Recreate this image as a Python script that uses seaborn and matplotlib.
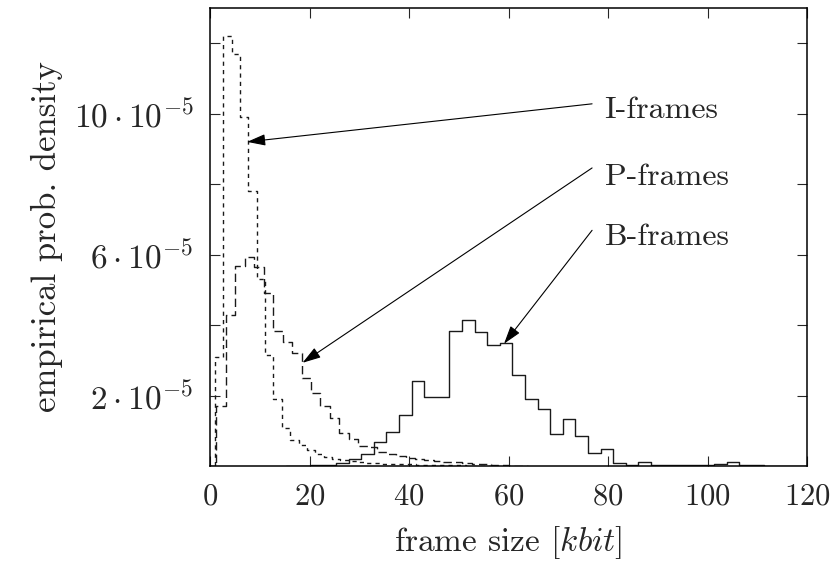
import numpy as np
import pandas as pd
import matplotlib
matplotlib.use("Agg")
import matplotlib.pyplot as plt
import seaborn as sns

# empirical densities, units of 1e-5 per kbit
i_start, i_width = 1.0, 1.68
i_density = [3.1, 12.2, 11.7, 9.9, 7.8, 5.3, 3.15, 1.9, 1.08, 0.74, 0.6, 0.45,
             0.33, 0.25, 0.2, 0.16, 0.13, 0.11, 0.09, 0.08, 0.07, 0.06, 0.05,
             0.05, 0.04, 0.03, 0.03, 0.02, 0.02, 0.02, 0.01, 0.01, 0.01]

p_start, p_width = 1.3, 1.9
p_density = [1.7, 4.28, 5.68, 5.93, 5.66, 4.92, 3.84, 3.51, 3.2, 2.51, 2.06,
             1.69, 1.35, 0.93, 0.77, 0.57, 0.53, 0.41, 0.33, 0.27, 0.24, 0.2,
             0.17, 0.15, 0.12, 0.1, 0.08, 0.06, 0.05, 0.04, 0.02, 0.01]

b_start, b_width = 17.73, 2.533
b_density = [0.01, 0.02, 0.04, 0.08, 0.2, 0.34, 0.67, 0.96, 1.45, 2.42, 1.95,
             1.95, 3.84, 4.15, 3.8, 3.44, 3.49, 2.57, 1.9, 1.62, 0.91, 1.33,
             0.85, 0.36, 0.47, 0.08, 0.03, 0.1, 0.03, 0.03, 0.02, 0.02, 0.02,
             0.05, 0.1, 0.03, 0.02, 0.01, 0.01, 0.01, 0.01]

frame_types = ["I-frames", "P-frames", "B-frames"]

sns.set_style("ticks")
plt.rcParams["font.family"] = "serif"
plt.rcParams["font.serif"] = ["cmr10", "DejaVu Serif"]
plt.rcParams["mathtext.fontset"] = "cm"
plt.rcParams["axes.formatter.use_mathtext"] = True


def step_hist(ax, start, width, dens, **kw):
    # pad with empty bins so the outline rises from / falls to zero
    dens = np.r_[0, dens, 0] * 1e-5
    edges = start + width * np.arange(-1, len(dens))
    df = pd.DataFrame({"size": (edges[:-1] + edges[1:]) / 2, "dens": dens})
    sns.histplot(data=df, x="size", weights="dens", bins=edges.tolist(),
                 element="step", fill=False, stat="count", color="#1a1a1a",
                 ax=ax, **kw)


fig = plt.figure(figsize=(8.3, 5.68), dpi=100)
ax = fig.add_axes([210 / 830, 1 - 466 / 568, 597 / 830, 458 / 568])

step_hist(ax, i_start, i_width, i_density, linewidth=1.0, linestyle=(0, (3, 3)))
step_hist(ax, p_start, p_width, p_density, linewidth=1.0, linestyle=(0, (6, 3)))
step_hist(ax, b_start, b_width, b_density, linewidth=1.0, linestyle="-")

# labels with arrows
text_y = [10.1, 8.2, 6.48]
tails = [(76.8, 10.28), (76.8, 8.46), (76.8, 6.69)]
tips = [(7.46, 9.2), (18.6, 2.93), (59.1, 3.47)]
for name, ty, (x0, y0), (x1, y1) in zip(frame_types, text_y, tails, tips):
    ax.text(79.3, ty * 1e-5, name, ha="left", va="center", fontsize=23)
    ax.annotate("", xy=(x1, y1 * 1e-5), xytext=(x0, y0 * 1e-5),
                arrowprops=dict(arrowstyle="-|>,head_length=0.8,head_width=0.25",
                                mutation_scale=14, lw=0.8, color="k",
                                shrinkA=0, shrinkB=0))

ax.set_xlim(0, 120)
ax.set_ylim(0, 13e-5)
ax.set_xticks(range(0, 121, 20))
ax.set_yticks(np.arange(2, 13, 2) * 1e-5)
ax.set_yticklabels([r"$2\cdot10^{-5}$", "", r"$6\cdot10^{-5}$", "",
                    r"$10\cdot10^{-5}$", ""])
ax.tick_params(direction="in", top=True, right=True, length=7, width=0.8,
               pad=12)
ax.tick_params(axis="x", labelsize=22)
ax.tick_params(axis="y", labelsize=24)
for s in ax.spines.values():
    s.set_linewidth(1.1)
    s.set_color("k")

ax.set_xlabel(r"frame size $[kbit]$", fontsize=24, labelpad=10)
ax.set_ylabel("empirical prob. density", fontsize=25, labelpad=8)

plt.savefig("out.png", dpi=100)
plt.close()
